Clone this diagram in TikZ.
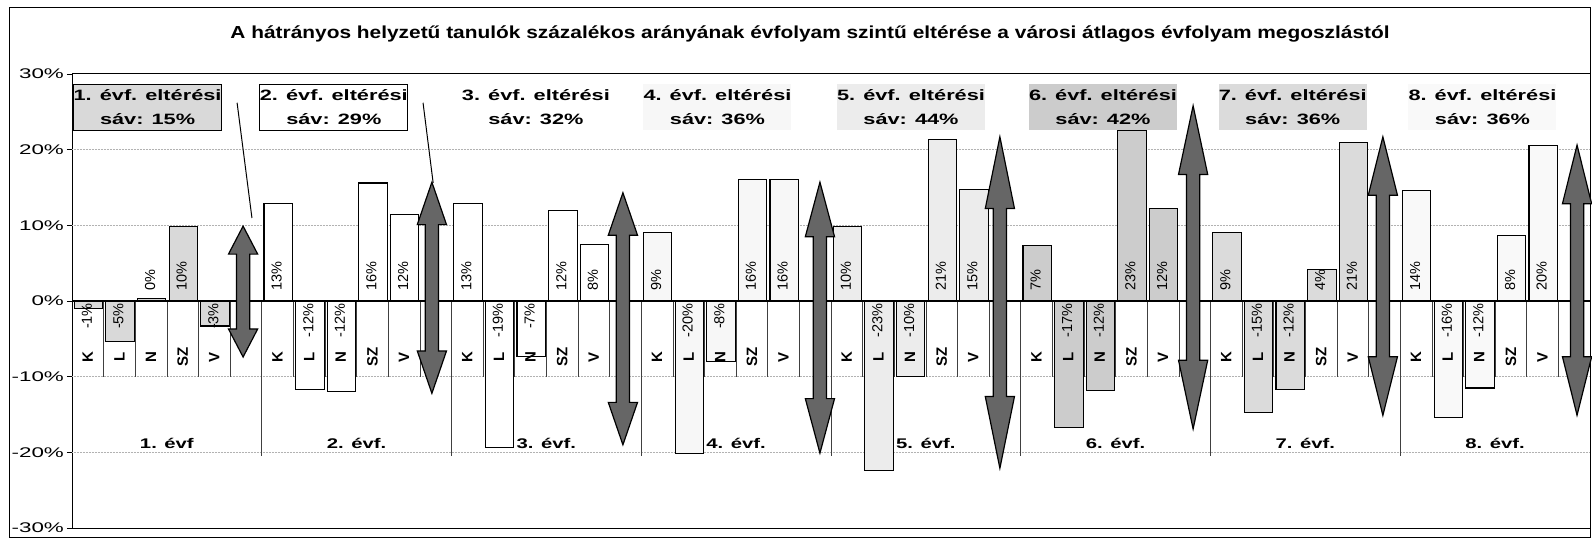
\documentclass[tikz,border=0pt]{standalone}
\usepackage{fontspec}
\setmainfont{Liberation Sans}
\newfontfamily\titlefont[FakeStretch=1.2]{Liberation Sans}
\newfontfamily\widefont[FakeStretch=1.45]{Liberation Sans}
\newfontfamily\axisfont[FakeStretch=1.6]{Liberation Sans}
\usetikzlibrary{shapes.arrows}

\begin{document}
\begin{tikzpicture}[x=31.625pt, y=7.567pt,
        plotframe/.style={draw=black, line width=1pt},
        barbox/.style={draw=black, line width=1.1pt},
        catsep/.style={draw=black!75, line width=0.7pt},
        gridline/.style={draw=gray!60, densely dotted, line width=0.5pt},
        barlabel/.style={rotate=90, inner sep=1pt, font=\fontsize{14.5}{14.5}\selectfont},
        pos label/.style={anchor=west, xshift=9pt},
        neg label/.style={anchor=east, xshift=-1pt},
        catlabel/.style={rotate=90, inner sep=0pt, font=\bfseries\fontsize{15}{15}\selectfont},
        grouplabel/.style={font=\widefont\bfseries\fontsize{14}{14}\selectfont},
        axislabel/.style={anchor=east, inner sep=0pt, font=\axisfont\fontsize{14}{14}\selectfont},
        rangebox/.style={minimum width=148pt, minimum height=46pt, inner sep=0pt, align=center,
            font=\widefont\bfseries\fontsize{15}{24}\selectfont},
        rangearrow/.style={double arrow, draw=black, fill=black!60, line width=1.2pt, rotate=90,
            inner sep=6pt, double arrow head extend=8pt},
        leader/.style={draw=black, line width=1pt}]
        \useasboundingbox (-2.2767,-31.45) rectangle (48.063,39.78);
        
        % Outer frame and plot area
        \draw[plotframe] (-1.99,-31.2) rectangle (48.03,38.85);
        \draw[plotframe] (0,-30) rectangle (48,30);
        
        % Title
        \node[font=\titlefont\bfseries\fontsize{17.4}{17.4}\selectfont] (title) at (23.34,35.3)
            {A hátrányos helyzetű tanulók százalékos arányának évfolyam szintű eltérése a városi átlagos évfolyam megoszlástól};
        
        % Value axis with ticks and grid
        \foreach \p in {-30,-20,...,30} {
            \node[axislabel] (y\p) at (-0.25,\p) {\p\%};
            \draw (-0.16,\p) -- (0,\p);
        }
        \foreach \p in {-20,-10,10,20} \draw[gridline] (0,\p) -- (48,\p);
        
        % Category and group separators
        \foreach \g in {0,...,7}
            \foreach \k in {1,...,5} \draw[catsep] (6*\g+\k,0) -- (6*\g+\k,-10);
        \foreach \g in {1,...,7} \draw[catsep] (6*\g,0) -- (6*\g,-20.5);
        
        % 1. évf.
        \foreach \v/\t/\s [count=\k from 0] in {-1.0/-1/neg, -5.4/-5/neg, 0.3/0/pos, 9.8/10/pos, -3.3/-3/neg} {
            \draw[barbox, fill=gray!30] (\k+0.07,0) rectangle (\k+0.97,\v);
            \node[barlabel, \s\space label] (v1-\k) at (\k+0.47,0) {\t\%};
        }
        
        % 2. évf.
        \foreach \v/\t/\s [count=\k from 0] in {12.9/13/pos, -11.7/-12/neg, -12.0/-12/neg, 15.6/16/pos, 11.4/12/pos} {
            \draw[barbox, fill=white] (6+\k+0.07,0) rectangle (6+\k+0.97,\v);
            \node[barlabel, \s\space label] (v2-\k) at (6+\k+0.47,0) {\t\%};
        }
        
        % 3. évf.
        \foreach \v/\t/\s [count=\k from 0] in {12.9/13/pos, -19.4/-19/neg, -7.3/-7/neg, 12.0/12/pos, 7.5/8/pos} {
            \draw[barbox, fill=white] (12+\k+0.07,0) rectangle (12+\k+0.97,\v);
            \node[barlabel, \s\space label] (v3-\k) at (12+\k+0.47,0) {\t\%};
        }
        
        % 4. évf.
        \foreach \v/\t/\s [count=\k from 0] in {9.1/9/pos, -20.1/-20/neg, -8.0/-8/neg, 16.0/16/pos, 16.0/16/pos} {
            \draw[barbox, fill=gray!6] (18+\k+0.07,0) rectangle (18+\k+0.97,\v);
            \node[barlabel, \s\space label] (v4-\k) at (18+\k+0.47,0) {\t\%};
        }
        
        % 5. évf.
        \foreach \v/\t/\s [count=\k from 0] in {9.8/10/pos, -22.4/-23/neg, -10.0/-10/neg, 21.4/21/pos, 14.7/15/pos} {
            \draw[barbox, fill=gray!15] (24+\k+0.07,0) rectangle (24+\k+0.97,\v);
            \node[barlabel, \s\space label] (v5-\k) at (24+\k+0.47,0) {\t\%};
        }
        
        % 6. évf.
        \foreach \v/\t/\s [count=\k from 0] in {7.3/7/pos, -16.7/-17/neg, -11.8/-12/neg, 22.6/23/pos, 12.2/12/pos} {
            \draw[barbox, fill=gray!40] (30+\k+0.07,0) rectangle (30+\k+0.97,\v);
            \node[barlabel, \s\space label] (v6-\k) at (30+\k+0.47,0) {\t\%};
        }
        
        % 7. évf.
        \foreach \v/\t/\s [count=\k from 0] in {9.0/9/pos, -14.7/-15/neg, -11.7/-12/neg, 4.2/4/pos, 21.0/21/pos} {
            \draw[barbox, fill=gray!28] (36+\k+0.07,0) rectangle (36+\k+0.97,\v);
            \node[barlabel, \s\space label] (v7-\k) at (36+\k+0.47,0) {\t\%};
        }
        
        % 8. évf.
        \foreach \v/\t/\s [count=\k from 0] in {14.6/14/pos, -15.4/-16/neg, -11.5/-12/neg, 8.6/8/pos, 20.6/20/pos} {
            \draw[barbox, fill=gray!5] (42+\k+0.07,0) rectangle (42+\k+0.97,\v);
            \node[barlabel, \s\space label] (v8-\k) at (42+\k+0.47,0) {\t\%};
        }
        
        % Zero line
        \draw[black, line width=1.4pt] (0,0) -- (48,0);
        
        % Category letters and group names
        \foreach \g in {0,...,7}
            \foreach \c [count=\k from 0] in {K,L,N,SZ,V}
                \node[catlabel] (c\g-\c) at (6*\g+\k+0.5,-7.4) {\c};
        \foreach \t [count=\g from 0] in {1. évf, 2. évf., 3. évf., 4. évf., 5. évf., 6. évf., 7. évf., 8. évf.}
            \node[grouplabel] (g\g) at (6*\g+3,-18.8) {\t};
        
        % Range boxes
        \node[rangebox, draw=black, line width=1pt, fill=gray!30] (box1) at (2.39,25.6) {1. évf. eltérési\\sáv: 15\%};
        \node[rangebox, draw=black, line width=1pt, fill=white] (box2) at (8.28,25.6) {2. évf. eltérési\\sáv: 29\%};
        \node[rangebox] (box3) at (14.67,25.6) {3. évf. eltérési\\sáv: 32\%};
        \node[rangebox, fill=gray!6] (box4) at (20.41,25.6) {4. évf. eltérési\\sáv: 36\%};
        \node[rangebox, fill=gray!15] (box5) at (26.53,25.6) {5. évf. eltérési\\sáv: 44\%};
        \node[rangebox, fill=gray!40] (box6) at (32.6,25.6) {6. évf. eltérési\\sáv: 42\%};
        \node[rangebox, fill=gray!28] (box7) at (38.6,25.6) {7. évf. eltérési\\sáv: 36\%};
        \node[rangebox, fill=gray!5] (box8) at (44.6,25.6) {8. évf. eltérési\\sáv: 36\%};
        
        % Range arrows
        \node[rangearrow, double arrow tip angle=55, minimum height=130.9pt] (arrow1) at (5.41,1.25) {};
        \node[rangearrow, double arrow tip angle=38, minimum height=211.1pt] (arrow2) at (11.38,1.75) {};
        \node[rangearrow, double arrow tip angle=38, minimum height=252.0pt] (arrow3) at (17.42,-2.35) {};
        \node[rangearrow, double arrow tip angle=30, minimum height=270.9pt] (arrow4) at (23.65,-2.2) {};
        \node[rangearrow, double arrow tip angle=23, minimum height=331.4pt] (arrow5) at (29.34,-0.2) {};
        \node[rangearrow, double arrow tip angle=24, minimum height=323.1pt] (arrow6) at (35.45,4.45) {};
        \node[rangearrow, double arrow tip angle=28, minimum height=278.5pt] (arrow7) at (41.45,3.3) {};
        \node[rangearrow, double arrow tip angle=28, minimum height=270.1pt] (arrow8) at (47.59,2.75) {};
        
        % Leader lines from the first two boxes
        \coordinate (lead1) at (5.22,26.2);
        \coordinate (tip1) at (5.69,10.97);
        \coordinate (lead2) at (11.1,26.2);
        \coordinate (tip2) at (11.42,15.6);
        \draw[leader] (lead1) -- (tip1);
        \draw[leader] (lead2) -- (tip2);
    \end{tikzpicture}
\end{document}
